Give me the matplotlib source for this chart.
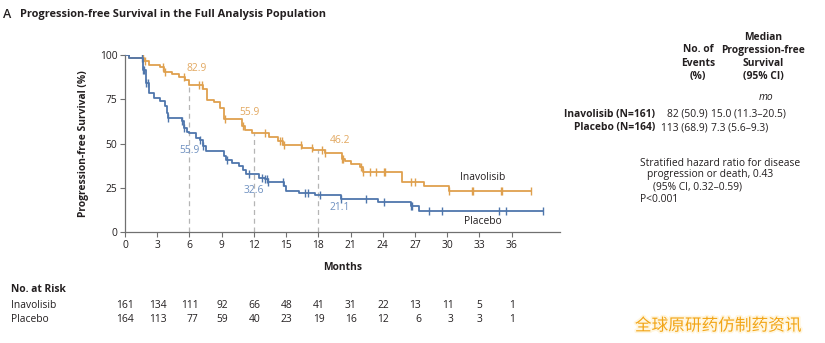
import matplotlib
matplotlib.use("Agg")
import matplotlib.pyplot as plt
import matplotlib.transforms as mtransforms
import matplotlib.patheffects as pe
import numpy as np

plt.rcParams['font.family'] = ['Open Sans', 'DejaVu Sans']

W, H = 825, 343
FS = 7.4

# Kaplan-Meier step data (time in months, survival in %)
inav_t = [0, 0.4, 1.8, 2.2, 3.3, 3.6, 4.4, 5.0, 5.6, 6.0, 7.3, 7.6, 8.3, 8.8, 9.2,
          10.9, 11.2, 11.8, 13.4, 14.2, 14.7, 16.5, 17.5, 18.6, 20.2, 20.5, 21.0,
          21.9, 22.2, 25.8, 27.8, 30.2, 37.8]
inav_s = [100, 98.1, 96.6, 94.0, 92.9, 90.4, 89.0, 87.5, 85.7, 82.9, 80.5, 74.4,
          73.5, 70.0, 63.8, 60.0, 57.5, 55.9, 53.5, 51.6, 49.3, 47.2, 46.2, 44.4,
          41.5, 40.2, 38.6, 36.6, 34.1, 28.2, 25.9, 23.2, 23.2]
inav_cens = [1.7, 1.9, 3.5, 3.7, 5.5, 6.9, 7.2, 9.3, 11.0, 13.0, 14.4, 14.6, 14.8,
             16.4, 17.4, 18.3, 18.6, 20.2, 20.3, 22.0, 22.2, 22.8, 23.4, 24.1,
             24.2, 26.6, 27.0, 30.2, 32.3, 32.4, 35.0, 35.1, 37.8]

plac_t = [0, 0.4, 1.65, 1.95, 2.2, 2.7, 3.3, 3.7, 3.9, 4.0, 5.3, 5.5, 5.8, 6.0, 6.6,
          7.0, 7.3, 7.5, 9.2, 9.4, 10.0, 10.6, 11.0, 11.3, 11.9, 12.5, 13.0, 13.3,
          14.8, 15.0, 16.2, 17.7, 20.1, 23.6, 26.6, 27.4, 38.9]
plac_s = [100, 98.0, 91.4, 84.0, 78.5, 75.6, 73.8, 71.0, 67.0, 64.4, 62.5, 58.7,
          56.3, 55.9, 53.2, 52.2, 48.5, 46.0, 42.9, 40.6, 39.1, 37.3, 35.0, 33.1,
          32.6, 30.7, 29.8, 28.3, 26.1, 23.3, 22.3, 21.1, 18.6, 17.2, 14.8, 12.0,
          12.0]
plac_cens = [1.6, 1.7, 1.8, 2.0, 2.1, 4.0, 5.3, 5.5, 7.0, 7.3, 9.5, 11.5, 12.8, 13.0,
             13.2, 13.3, 14.7, 16.8, 17.0, 18.2, 20.1, 22.4, 24.1, 26.6, 26.7, 28.3,
             29.5, 34.8, 35.5, 38.9]

# landmark estimates at 6, 12, 18 months
land_t = [6, 12, 18]
inav_land = [82.9, 55.9, 46.2]
plac_land = [55.9, 32.6, 21.1]

x_ticks = list(range(0, 37, 3))
risk_inav = [161, 134, 111, 92, 66, 48, 41, 31, 22, 13, 11, 5, 1]
risk_plac = [164, 113, 77, 59, 40, 23, 19, 16, 12, 6, 3, 3, 1]

ORANGE = '#DFA04E'
BLUE = '#4F76AC'
ORANGE_TXT = '#E2A860'
BLUE_TXT = '#6E90C0'
TXT = '#231F20'


def step_value(ts, ss, x):
    idx = np.searchsorted(ts, x, side='right') - 1
    return np.array(ss)[idx]


def fx(x):
    return x / W


def fy(y):
    return 1 - y / H


fig = plt.figure(figsize=(W / 100, H / 100), dpi=100)
ax = fig.add_axes([fx(125), fy(232.3), (560 - 125) / W, (232.3 - 54.7) / H])

for ts, ss, cens, col in [(inav_t, inav_s, inav_cens, ORANGE),
                          (plac_t, plac_s, plac_cens, BLUE)]:
    ax.step(ts, ss, where='post', color=col, lw=1.3, zorder=3)
    ax.plot(cens, step_value(ts, ss, cens), ls='none', marker='|', ms=6,
            mew=1.0, color=col, zorder=3)

for t, v in zip(land_t, inav_land):
    ax.plot([t, t], [0, v], ls=(0, (4, 3)), color='#B5B5B5', lw=0.9, zorder=1)

# landmark labels
lbl = dict(fontsize=FS, ha='center', va='center')
ax.text(6.7, 92.5, f'{inav_land[0]}', color=ORANGE_TXT, **lbl)
ax.text(11.6, 67.5, f'{inav_land[1]}', color=ORANGE_TXT, **lbl)
ax.text(20.0, 51.5, f'{inav_land[2]}', color=ORANGE_TXT, **lbl)
ax.text(6.05, 46.3, f'{plac_land[0]}', color=BLUE_TXT, **lbl)
ax.text(12.0, 23.8, f'{plac_land[1]}', color=BLUE_TXT, **lbl)
ax.text(20.0, 14.2, f'{plac_land[2]}', color=BLUE_TXT, **lbl)

ax.text(33.3, 30.7, 'Inavolisib', color=TXT, **lbl)
ax.text(33.3, 6.0, 'Placebo', color=TXT, **lbl)

ax.set_xlim(0, 40.5)
ax.set_ylim(0, 100)
ax.set_xticks(x_ticks)
ax.set_yticks([0, 25, 50, 75, 100])
ax.spines['top'].set_visible(False)
ax.spines['right'].set_visible(False)
for sp in ['left', 'bottom']:
    ax.spines[sp].set_color('#707070')
    ax.spines[sp].set_linewidth(0.9)
ax.tick_params(direction='out', length=3.5, width=0.8, color='#707070',
               labelsize=FS, labelcolor=TXT, pad=2)
ax.set_ylabel('Progression-free Survival (%)', fontsize=FS, fontweight='bold', color=TXT)
ax.yaxis.set_label_coords(-0.083, 0.5)

fig.text(fx(343), fy(268), 'Months', fontsize=FS, fontweight='bold', color=TXT,
         ha='center', va='center')

# panel title
fig.text(fx(3), fy(14), 'A', fontsize=9, fontweight='semibold', color=TXT, ha='left', va='center')
fig.text(fx(20), fy(14), 'Progression-free Survival in the Full Analysis Population',
         fontsize=7.9, fontweight='bold', color=TXT, ha='left', va='center')

# number at risk
fig.text(fx(11), fy(290), 'No. at Risk', fontsize=FS, fontweight='bold', color=TXT, va='center')
fig.text(fx(11), fy(306), 'Inavolisib', fontsize=FS, color=TXT, va='center')
fig.text(fx(11), fy(319), 'Placebo', fontsize=FS, color=TXT, va='center')
blend = mtransforms.blended_transform_factory(ax.transData, fig.transFigure)
for t, a, b in zip(x_ticks, risk_inav, risk_plac):
    nd = max(len(str(a)), len(str(b)))
    off = mtransforms.ScaledTranslation(nd * 3.1 / 100, 0, fig.dpi_scale_trans)
    for v, y in [(a, 306), (b, 319)]:
        fig.text(t, fy(y), str(v), fontsize=FS, color=TXT, ha='right', va='center',
                 transform=blend + off)

# summary table
hdr = dict(fontsize=FS, fontweight='bold', color=TXT, ha='center', va='center')
fig.text(fx(763), fy(37), 'Median', **hdr)
fig.text(fx(698), fy(50), 'No. of', **hdr)
fig.text(fx(698), fy(63), 'Events', **hdr)
fig.text(fx(698), fy(77), '(%)', **hdr)
fig.text(fx(763), fy(50), 'Progression-free', **hdr)
fig.text(fx(763), fy(63), 'Survival', **hdr)
fig.text(fx(763), fy(77), '(95% CI)', **hdr)
fig.text(fx(766), fy(97), 'mo', fontsize=FS, style='italic', color=TXT, ha='center', va='center')

fig.text(fx(655), fy(114), 'Inavolisib (N=161)', fontsize=FS, fontweight='bold',
         color=TXT, ha='right', va='center')
fig.text(fx(655), fy(128), 'Placebo (N=164)', fontsize=FS, fontweight='bold',
         color=TXT, ha='right', va='center')
fig.text(fx(708), fy(114), '82 (50.9)', fontsize=FS, color=TXT, ha='right', va='center')
fig.text(fx(708), fy(128), '113 (68.9)', fontsize=FS, color=TXT, ha='right', va='center')
fig.text(fx(711), fy(114), '15.0 (11.3\u201320.5)', fontsize=FS, color=TXT, ha='left', va='center')
fig.text(fx(711), fy(128), '7.3 (5.6\u20139.3)', fontsize=FS, color=TXT, ha='left', va='center')

fig.text(fx(640), fy(163), 'Stratified hazard ratio for disease', fontsize=FS,
         color=TXT, va='center')
fig.text(fx(647), fy(175), 'progression or death, 0.43', fontsize=FS, color=TXT, va='center')
fig.text(fx(653), fy(187), '(95% CI, 0.32\u20130.59)', fontsize=FS, color=TXT, va='center')
fig.text(fx(640), fy(199), 'P<0.001', fontsize=FS, color=TXT, va='center')

# source watermark
fig.text(fx(718), fy(326), '全球原研药仿制药资讯', fontsize=12, color='#F2A516',
         family=['Noto Sans CJK SC', 'DejaVu Sans'], ha='center', va='center',
         path_effects=[pe.withStroke(linewidth=2.5, foreground='#FFF6E0')])

fig.savefig('out.png', dpi=100)
